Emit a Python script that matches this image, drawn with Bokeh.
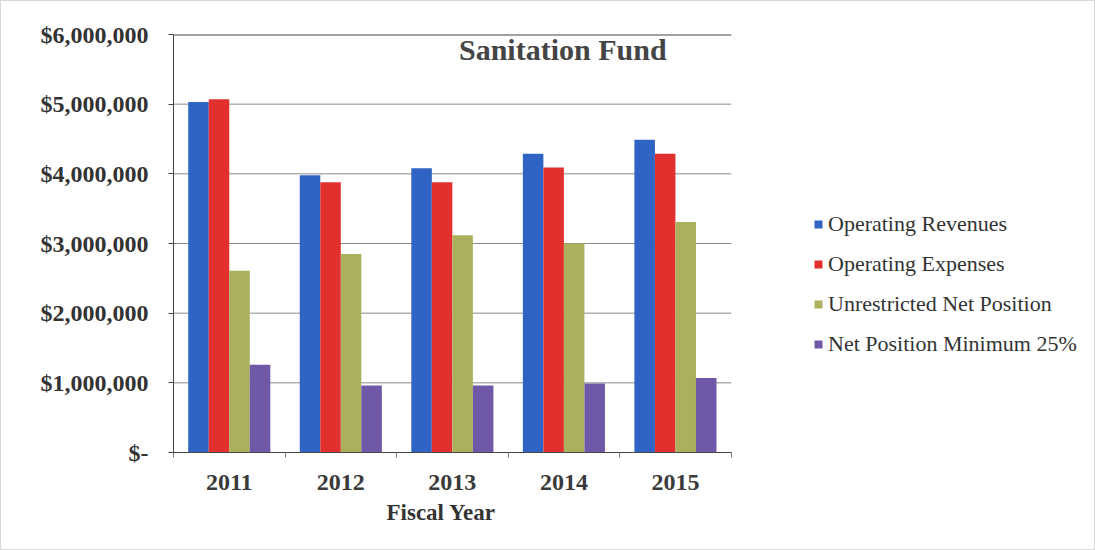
from bokeh.plotting import figure
from bokeh.models import (ColumnDataSource, FixedTicker, Legend, LegendItem, Label,
                          Range1d, Title)
from bokeh.transform import dodge
from bokeh.embed import file_html
from bokeh.resources import INLINE

years = ["2011", "2012", "2013", "2014", "2015"]
operating_revenues = [5030000, 3980000, 4080000, 4290000, 4490000]
operating_expenses = [5070000, 3880000, 3880000, 4090000, 4290000]
unrestricted_net_position = [2610000, 2850000, 3120000, 3000000, 3310000]
net_position_min_25 = [1260000, 960000, 960000, 990000, 1070000]
series_names = ["Operating Revenues", "Operating Expenses",
                "Unrestricted Net Position", "Net Position Minimum 25%"]
y_ticks = [0, 1000000, 2000000, 3000000, 4000000, 5000000, 6000000]
y_tick_labels = ["$-", "$1,000,000", "$2,000,000", "$3,000,000",
                 "$4,000,000", "$5,000,000", "$6,000,000"]

colors = ["#2F63C4", "#E2302F", "#AAB05C", "#6F58A8"]
FONT = "Liberation Serif"

n = len(years)
idx = list(range(n))
src = ColumnDataSource(dict(
    idx=idx,
    years=years,
    rev=operating_revenues,
    exp=operating_expenses,
    unr=unrestricted_net_position,
    mn=net_position_min_25,
))

# frame spans to the right edge so the legend can sit inside it
p = figure(x_range=Range1d(-0.5, 7.73), y_range=Range1d(0, y_ticks[-1]),
           width=1095, height=550,
           output_backend="svg", toolbar_location=None,
           min_border_left=172, min_border_right=5,
           min_border_top=33, min_border_bottom=99)

# horizontal gridlines limited to the category area
grid_src = ColumnDataSource(dict(
    x0=[-0.5] * (len(y_ticks) - 2), x1=[n - 0.5] * (len(y_ticks) - 2),
    y=y_ticks[1:-1]))
p.segment(x0="x0", x1="x1", y0="y", y1="y", source=grid_src,
          line_color="#8a8a8a", line_width=1)
p.segment(x0=[-0.5], x1=[n - 0.5], y0=[y_ticks[-1]], y1=[y_ticks[-1]],
          line_color="#444444", line_width=2)

bw = 0.184
offsets = [-0.276, -0.092, 0.092, 0.276]
fields = ["rev", "exp", "unr", "mn"]
items = []
for f, off, c, name in zip(fields, offsets, colors, series_names):
    r = p.vbar(x=dodge("idx", off), top=f, width=bw,
               source=src, fill_color=c, line_color=None)
    items.append(LegendItem(label=name, renderers=[r]))

p.yaxis.ticker = FixedTicker(ticks=y_ticks)
p.yaxis.major_label_overrides = {t: l for t, l in zip(y_ticks, y_tick_labels)}
p.yaxis.major_label_text_font = FONT
p.yaxis.major_label_text_font_style = "bold"
p.yaxis.major_label_text_font_size = "24px"
p.yaxis.major_label_text_color = "#333333"
p.yaxis.axis_line_color = "#444444"
p.yaxis.major_tick_line_color = "#444444"
p.yaxis.major_tick_in = 0
p.yaxis.major_tick_out = 5
p.yaxis.minor_tick_line_color = None
p.yaxis.major_label_standoff = 20

p.xaxis.ticker = FixedTicker(ticks=idx, minor_ticks=[i - 0.5 for i in range(n + 1)])
p.xaxis.major_label_overrides = {i: y for i, y in zip(idx, years)}
p.xaxis.bounds = (-0.5, n - 0.5)
p.xaxis.major_label_text_font = FONT
p.xaxis.major_label_text_font_style = "bold"
p.xaxis.major_label_text_font_size = "24px"
p.xaxis.major_label_text_color = "#3a3a3a"
p.xaxis.axis_line_color = "#444444"
p.xaxis.major_tick_line_color = None
p.xaxis.minor_tick_line_color = "#777777"
p.xaxis.minor_tick_in = 0
p.xaxis.minor_tick_out = 5
p.xaxis.major_label_standoff = 16

xlabel = Title(text="Fiscal Year", align="left", offset=213,
               text_font=FONT, text_font_style="bold", text_font_size="23px",
               text_color="#333333", standoff=11)
p.add_layout(xlabel, "below")

p.xgrid.grid_line_color = None
p.ygrid.grid_line_color = None
p.outline_line_color = None

title = Label(x=2.99, y=5790000, text="Sanitation Fund", text_font=FONT,
              text_font_style="bold", text_font_size="30px",
              text_color="#444444", text_align="center", text_baseline="middle")
p.add_layout(title)

legend = Legend(items=items, location=(640, 95), orientation="vertical",
                label_text_font=FONT, label_text_font_size="22px",
                label_text_color="#333333", glyph_width=10, glyph_height=10,
                label_height=22, spacing=14, padding=0, margin=0,
                border_line_color=None, background_fill_alpha=0,
                label_standoff=5)
p.add_layout(legend)

p.styles = {"border": "1px solid #d8d8d8"}

open("out.html", "w").write(file_html(p, INLINE))
